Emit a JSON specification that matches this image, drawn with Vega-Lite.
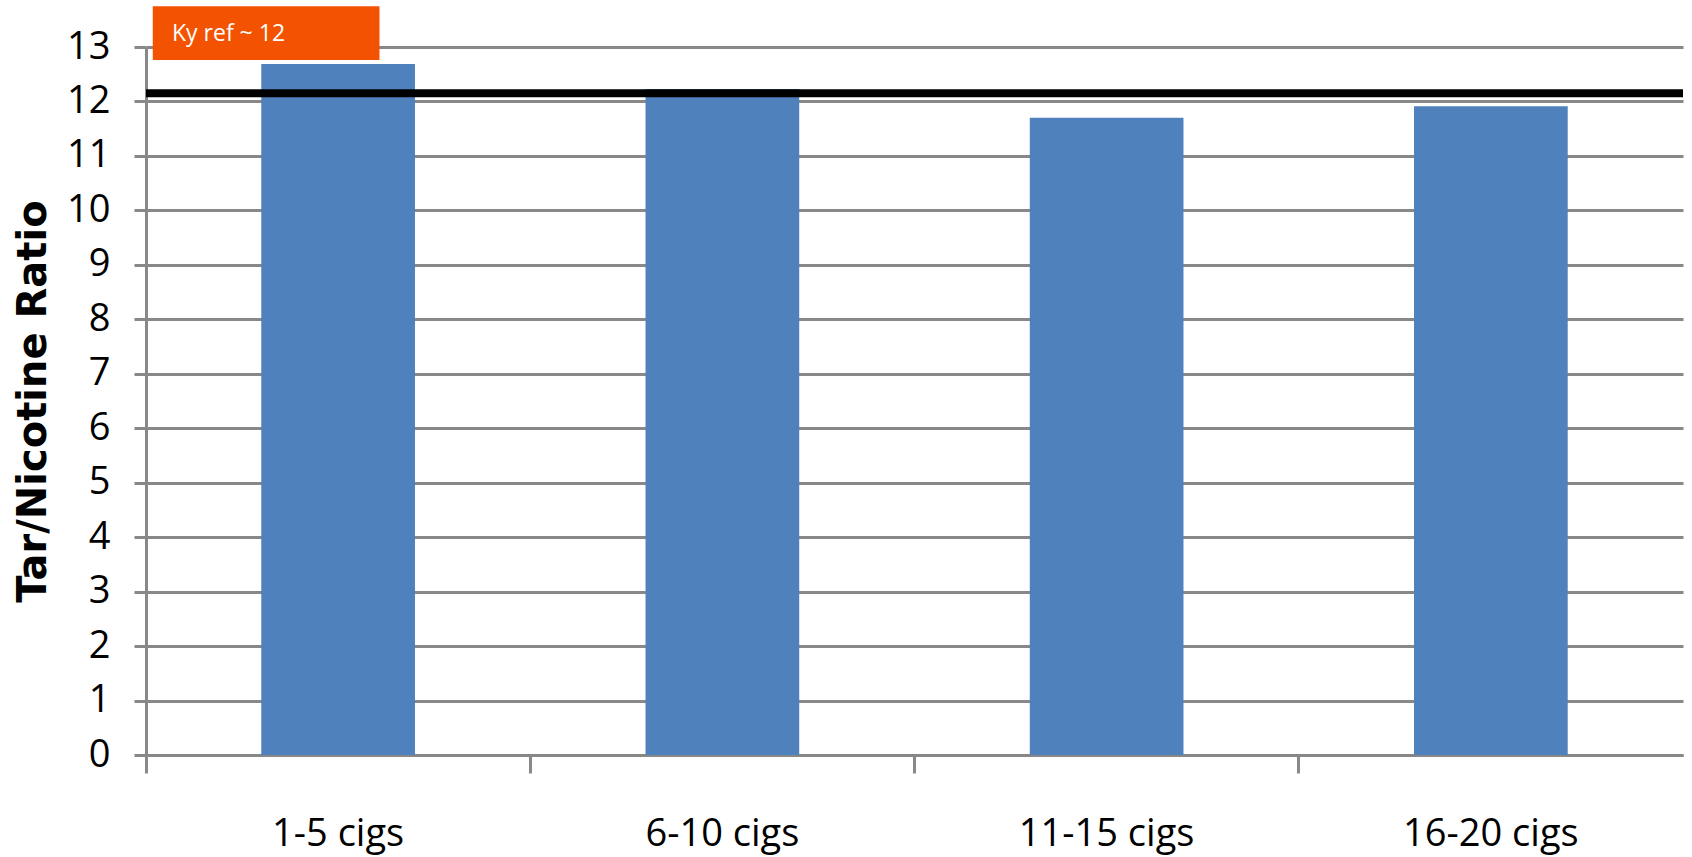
{
  "$schema": "https://vega.github.io/schema/vega-lite/v6.json",
  "autosize": "none",
  "width": 1537,
  "height": 708,
  "padding": {"left": 146, "top": 47, "right": 9, "bottom": 102},
  "background": "white",
  "config": {"view": {"stroke": null}},
  "datasets": {
    "bars": [
      {"group": "1-5 cigs", "ratio": 12.69},
      {"group": "6-10 cigs", "ratio": 12.23},
      {"group": "11-15 cigs", "ratio": 11.7},
      {"group": "16-20 cigs", "ratio": 11.91}
    ],
    "ref": [{"ref": 12.15}],
    "note": [{"group": "1-5 cigs", "label": "Ky ref ~ 12", "lo": 12.76, "hi": 13.75, "mid": 13.24}]
  },
  "layer": [
    {
      "data": {"name": "bars"},
      "mark": {"type": "bar", "color": "#4F81BD", "width": {"band": 0.4}},
      "encoding": {
        "x": {
          "field": "group", "type": "nominal", "sort": null,
          "scale": {"paddingInner": 0, "paddingOuter": 0},
          "axis": {
            "title": null, "labelAngle": 0, "bandPosition": 0, "labelLimit": 0,
            "labelFont": "Open Sans", "labelFontSize": 38, "labelColor": "#000000",
            "labelPadding": 42, "tickSize": 18, "tickWidth": 3, "tickColor": "#888888",
            "domainColor": "#888888", "domainWidth": 3, "grid": false
          }
        },
        "y": {
          "field": "ratio", "type": "quantitative",
          "scale": {"domain": [0, 13], "nice": false},
          "axis": {
            "title": "Tar/Nicotine Ratio", "titleFont": "DejaVu Sans", "titleFontWeight": "bold",
            "titleFontSize": 40, "titleColor": "#000000",
            "titleX": -113, "titleY": 354, "titleBaseline": "middle", "titleAlign": "center", "titleAngle": -90,
            "values": [0,1,2,3,4,5,6,7,8,9,10,11,12,13],
            "labelFont": "Open Sans", "labelFontSize": 38, "labelColor": "#000000",
            "labelPadding": 24, "tickSize": 12, "tickWidth": 3, "tickColor": "#888888",
            "domainColor": "#888888", "domainWidth": 3,
            "grid": true, "gridColor": "#888888", "gridWidth": 3, "gridOpacity": 1
          }
        }
      }
    },
    {
      "data": {"name": "ref"},
      "mark": {"type": "rule", "color": "#000000", "strokeWidth": 8},
      "encoding": {"y": {"field": "ref", "type": "quantitative"}}
    },
    {
      "data": {"name": "note"},
      "mark": {"type": "bar", "color": "#F35200", "width": {"band": 0.59}, "xOffset": -72},
      "encoding": {
        "x": {"field": "group", "type": "nominal", "sort": null},
        "y": {"field": "lo", "type": "quantitative"},
        "y2": {"field": "hi"}
      }
    },
    {
      "data": {"name": "note"},
      "mark": {"type": "text", "color": "#FFFFFF", "font": "Open Sans", "fontSize": 23, "align": "left", "baseline": "middle", "dx": 26},
      "encoding": {
        "x": {"field": "group", "type": "nominal", "sort": null, "bandPosition": 0},
        "y": {"field": "mid", "type": "quantitative"},
        "text": {"field": "label"}
      }
    }
  ]
}
